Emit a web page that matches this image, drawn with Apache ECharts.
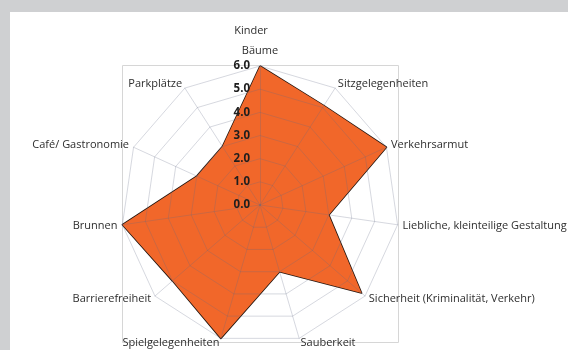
<!DOCTYPE html>
<html>
<head>
<meta charset="utf-8">
<script src="https://cdn.jsdelivr.net/npm/echarts@6/dist/echarts.min.js"></script>
<style>
  html, body { margin: 0; padding: 0; background: #cfd0d2; }
  #chart { width: 568px; height: 350px; }
</style>
</head>
<body>
<div id="chart"></div>
<script>
// Criteria rated on a 0–6 scale, listed clockwise from the top spoke
const categories = [
  'Bäume',
  'Sitzgelegenheiten',
  'Verkehrsarmut',
  'Liebliche, kleinteilige Gestaltung',
  'Sicherheit (Kriminalität, Verkehr)',
  'Sauberkeit',
  'Spielgelegenheiten',
  'Barrierefreiheit',
  'Brunnen',
  'Café/ Gastronomie',
  'Parkplätze'
];
const ratings = [6.0, 5.1, 6.0, 3.0, 5.8, 3.0, 6.0, 5.0, 6.0, 3.0, 3.0];
const scaleMax = 6;
const chartTitle = 'Kinder';

const FONT = '"Open Sans", Lato, sans-serif';

// ECharts lays radar spokes out counter-clockwise, so keep the first
// spoke on top and feed the rest in reverse to get a clockwise layout.
const order = [0].concat(categories.map((_, i) => i).slice(1).reverse());

const indicators = order.map(i => {
  const ind = { name: categories[i], min: 0, max: scaleMax };
  if (i === 0) {
    // value scale is printed along the top spoke only
    ind.axisLabel = {
      show: true,
      formatter: v => v.toFixed(1),
      fontFamily: FONT,
      fontWeight: 'bold',
      fontSize: 11.5,
      color: '#1e1e1e',
      margin: 10
    };
    ind.nameGap = 10;
  }
  return ind;
});
const orderedRatings = order.map(i => ratings[i]);

const chart = echarts.init(document.getElementById('chart'), null, { renderer: 'canvas' });
chart.setOption({
  backgroundColor: '#cfd0d2',
  animation: false,
  title: {
    text: chartTitle,
    left: 246,
    top: 20,
    textAlign: 'center',
    textStyle: { fontFamily: FONT, fontSize: 11, fontWeight: 'normal', color: '#2e2e2e' }
  },
  graphic: [
    { type: 'rect', z: -10, shape: { x: 10, y: 12, width: 558, height: 338 }, style: { fill: '#ffffff' } },
    { type: 'rect', z: -9, shape: { x: 122.5, y: 65.5, width: 276, height: 277 }, style: { fill: 'none', stroke: '#d6d6d6', lineWidth: 1 } }
  ],
  radar: {
    z: 5,
    center: [260, 205],
    radius: 139,
    startAngle: 90,
    shape: 'polygon',
    splitNumber: 6,
    indicator: indicators,
    nameGap: 5,
    axisName: { color: '#2e2e2e', fontFamily: FONT, fontSize: 11 },
    axisLabel: { show: false },
    axisLine: { lineStyle: { color: 'rgba(95,105,130,0.26)', width: 1 } },
    splitLine: { lineStyle: { color: 'rgba(95,105,130,0.26)', width: 1 } },
    splitArea: { show: false }
  },
  series: [{
    type: 'radar',
    z: 2,
    symbol: 'none',
    data: [{
      value: orderedRatings,
      lineStyle: { color: '#261710', width: 1.6 },
      areaStyle: { color: '#f1672a', opacity: 1 }
    }]
  }]
});
</script>
</body>
</html>
